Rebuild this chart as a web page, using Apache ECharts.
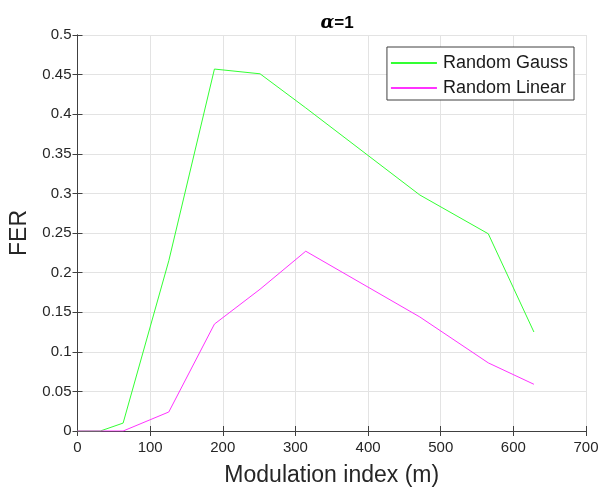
<!DOCTYPE html>
<html>
<head>
<meta charset="utf-8">
<script src="https://cdn.jsdelivr.net/npm/echarts@6/dist/echarts.min.js"></script>
<style>
  html, body { margin: 0; padding: 0; background: #fff; }
  #chart { width: 599px; height: 488px; }
</style>
</head>
<body>
<div id="chart"></div>
<script>
// modulation index values (m)
var mValues = [0, 31.4, 62.8, 125.7, 188.5, 251.3, 314.2, 471.2, 565.5, 628.3];
// FER per series
var gaussFER = [0, 0, 0.010, 0.215, 0.457, 0.451, 0.408, 0.298, 0.249, 0.125];
var linearFER = [0, 0, 0, 0.024, 0.135, 0.179, 0.227, 0.144, 0.086, 0.059];
var seriesNames = ['Random Gauss', 'Random Linear'];

var chart = echarts.init(document.getElementById('chart'));

function pairs(ys) {
  return mValues.map(function (m, i) { return [m, ys[i]]; });
}

var axisColor = '#404040';
var font = 'Liberation Sans, Arial, sans-serif';
// ticks drawn into the plot area, MATLAB style
var tickIn = { show: true, inside: true, length: 5, lineStyle: { color: axisColor } };

chart.setOption({
  animation: false,
  backgroundColor: '#fff',
  textStyle: { fontFamily: font },
  title: {
    text: '{a|α}=1',
    left: 332,
    top: 9,
    textAlign: 'center',
    textStyle: {
      fontSize: 17,
      fontWeight: 'bold',
      color: '#000',
      fontFamily: font,
      rich: {
        a: { fontStyle: 'italic', fontWeight: 'bold', fontSize: 18, fontFamily: 'DejaVu Serif, serif' }
      }
    }
  },
  legend: {
    data: seriesNames,
    orient: 'vertical',
    right: 25,
    top: 47,
    itemWidth: 46,
    itemHeight: 2,
    itemGap: 7,
    padding: [7, 6, 3, 4],
    borderColor: axisColor,
    borderWidth: 1,
    backgroundColor: '#fff',
    icon: 'rect',
    textStyle: { fontSize: 18, color: '#1a1a1a', fontFamily: font, padding: [0, 0, 0, 1], lineHeight: 18 }
  },
  grid: { left: 77.5, right: 13, top: 35, bottom: 57, outerBoundsMode: 'none', containLabel: false },
  xAxis: [{
    type: 'value',
    min: 0, max: 700, interval: 100,
    name: 'Modulation index (m)',
    nameLocation: 'middle',
    nameGap: 33,
    nameTextStyle: { fontSize: 23, color: '#262626', fontFamily: font },
    axisLine: { lineStyle: { color: axisColor } },
    axisTick: tickIn,
    axisLabel: { fontSize: 15, color: '#262626', margin: 9 },
    splitLine: { show: true, lineStyle: { color: '#e3e3e3' } }
  }, {
    type: 'value',
    position: 'top',
    min: 0, max: 700, interval: 100,
    axisLine: { show: true, lineStyle: { color: axisColor } },
    axisTick: tickIn,
    axisLabel: { show: false },
    splitLine: { show: false }
  }],
  yAxis: [{
    type: 'value',
    min: 0, max: 0.5, interval: 0.05,
    name: 'FER',
    nameLocation: 'middle',
    nameGap: 43,
    nameTextStyle: { fontSize: 23, color: '#262626', fontFamily: font },
    axisLine: { show: true, lineStyle: { color: axisColor } },
    axisTick: tickIn,
    axisLabel: { fontSize: 15, color: '#262626', margin: 6 },
    splitLine: { show: true, lineStyle: { color: '#e3e3e3' } }
  }, {
    type: 'value',
    position: 'right',
    min: 0, max: 0.5, interval: 0.05,
    axisLine: { show: true, lineStyle: { color: axisColor } },
    axisTick: tickIn,
    axisLabel: { show: false },
    splitLine: { show: false }
  }],
  series: [{
    name: seriesNames[0],
    type: 'line',
    data: pairs(gaussFER),
    showSymbol: false,
    color: '#33ff33',
    lineStyle: { width: 1 }
  }, {
    name: seriesNames[1],
    type: 'line',
    data: pairs(linearFER),
    showSymbol: false,
    color: '#ff33ff',
    lineStyle: { width: 1 }
  }]
});

window.addEventListener('resize', function () {
  chart.resize();
});
</script>
</body>
</html>
